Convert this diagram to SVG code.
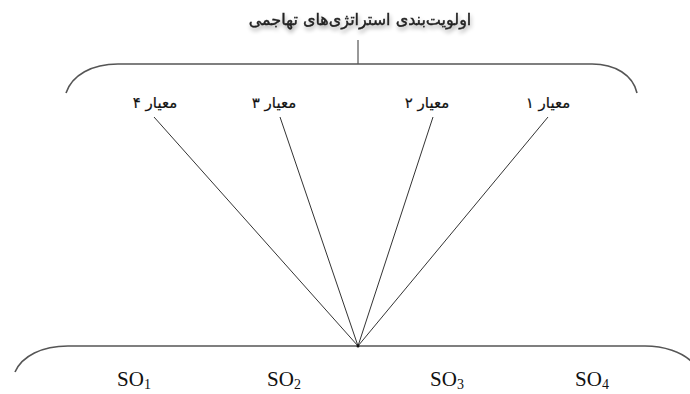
<svg xmlns="http://www.w3.org/2000/svg" width="690" height="394" viewBox="0 0 690 394">
<defs>
<filter id="sh" x="-10%" y="-30%" width="120%" height="170%">
<feGaussianBlur in="SourceAlpha" stdDeviation="2"/>
<feOffset dx="1" dy="3" result="b"/>
<feComponentTransfer><feFuncA type="linear" slope="0.35"/></feComponentTransfer>
<feMerge><feMergeNode/><feMergeNode in="SourceGraphic"/></feMerge>
</filter>
</defs>
<style>
.br{fill:none;stroke:#555;stroke-width:1.6}
.ln{fill:none;stroke:#333;stroke-width:1}
.fa{font-family:"DejaVu Sans","Noto Sans",sans-serif;font-size:15px;fill:#111;text-anchor:middle;stroke:#111;stroke-width:0.2}
.so{font-family:"Liberation Serif",serif;font-size:21px;fill:#111;text-anchor:middle}
</style>
<rect width="690" height="394" fill="#fff"/>
<g id="title">
<text x="360" y="25" filter="url(#sh)" style="font-family:'DejaVu Sans',sans-serif;font-size:16px;fill:#222;stroke:#222;stroke-width:0.4;text-anchor:middle" direction="rtl">اولویت‌بندی استراتژی‌های تهاجمی</text>
<line class="ln" x1="358" y1="40" x2="358" y2="64" stroke="#555"/>
</g>
<g id="top-brace">
<path class="br" d="M66,93 C72,75 92,64 118,64 L592,64 C615,64 633,75 637,93"/>
</g>
<g id="c4"><text class="fa" x="155" y="108" direction="rtl">معیار ۴</text></g>
<g id="c3"><text class="fa" x="274" y="108" direction="rtl">معیار ۳</text></g>
<g id="c2"><text class="fa" x="427" y="108" direction="rtl">معیار ۲</text></g>
<g id="c1"><text class="fa" x="548" y="108" direction="rtl">معیار ۱</text></g>
<g id="connectors">
<line class="ln" x1="154" y1="117" x2="358" y2="346"/>
<line class="ln" x1="280" y1="117" x2="358" y2="346"/>
<line class="ln" x1="433" y1="117" x2="358" y2="346"/>
<line class="ln" x1="548" y1="117" x2="358" y2="346"/>
</g>
<g id="bottom-brace">
<path class="br" d="M15,372 C22,356 42,346 68,346 L645,346 C664,346 682,352 692,362"/>
<circle cx="358" cy="346" r="1.5" fill="#111"/>
</g>
<g id="so1"><text class="so" x="134" y="386">SO<tspan font-size="14" dy="3">1</tspan></text></g>
<g id="so2"><text class="so" x="284" y="386">SO<tspan font-size="14" dy="3">2</tspan></text></g>
<g id="so3"><text class="so" x="447" y="386">SO<tspan font-size="14" dy="3">3</tspan></text></g>
<g id="so4"><text class="so" x="592" y="386">SO<tspan font-size="14" dy="3">4</tspan></text></g>
</svg>
